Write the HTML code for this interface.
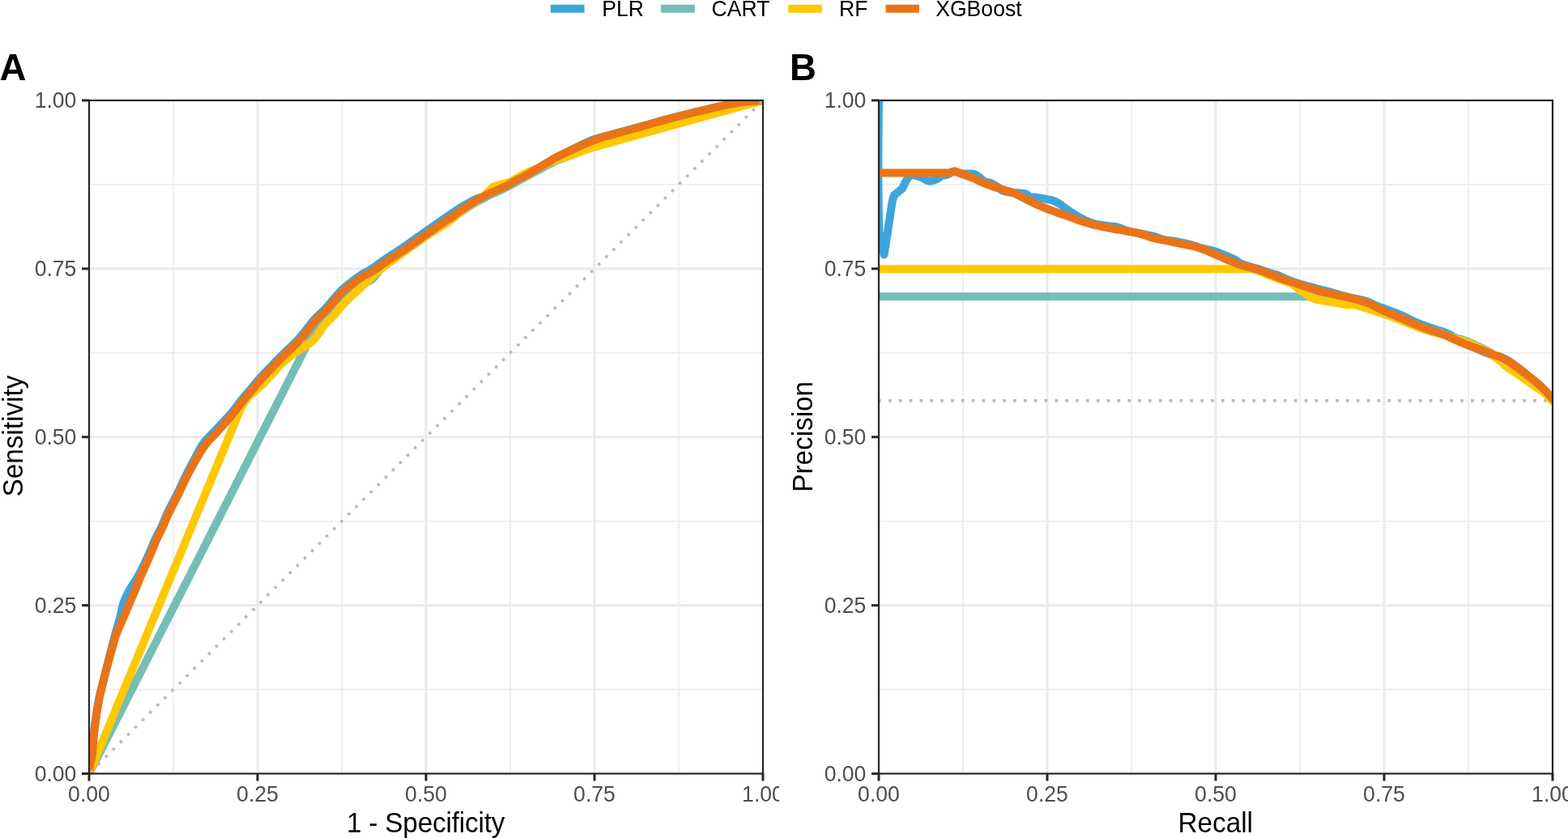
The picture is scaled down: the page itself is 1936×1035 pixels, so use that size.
<!DOCTYPE html>
<html><head><meta charset="utf-8"><title>ROC and PR curves</title>
<style>html,body{margin:0;padding:0;background:#fff;overflow:hidden}svg{display:block}</style>
</head><body>
<svg width="1936" height="1035" viewBox="0 0 1936 1035">
<defs>
<clipPath id="cA"><rect x="110.00" y="124.00" width="832.00" height="831.50"/></clipPath>
<clipPath id="cB"><rect x="1085.00" y="124.00" width="832.00" height="831.50"/></clipPath>
<clipPath id="cellA"><rect x="0" y="0" width="962" height="1035"/></clipPath>
</defs>
<rect width="1936" height="1035" fill="#ffffff"/>
<style>.tk{font-family:"Liberation Sans",Arial,sans-serif;font-size:26.60px;fill:#4D4D4D}.ti{font-family:"Liberation Sans",Arial,sans-serif;font-size:33.30px;fill:#000}.tg{font-family:"Liberation Sans",Arial,sans-serif;font-size:45.60px;font-weight:bold;fill:#000}.lg{font-family:"Liberation Sans",Arial,sans-serif;font-size:26.60px;fill:#000}</style>
<g clip-path="url(#cellA)">
<line x1="214.00" y1="124.00" x2="214.00" y2="955.50" stroke="#EBEBEB" stroke-width="1.6"/>
<line x1="110.00" y1="851.56" x2="942.00" y2="851.56" stroke="#EBEBEB" stroke-width="1.6"/>
<line x1="422.00" y1="124.00" x2="422.00" y2="955.50" stroke="#EBEBEB" stroke-width="1.6"/>
<line x1="110.00" y1="643.69" x2="942.00" y2="643.69" stroke="#EBEBEB" stroke-width="1.6"/>
<line x1="630.00" y1="124.00" x2="630.00" y2="955.50" stroke="#EBEBEB" stroke-width="1.6"/>
<line x1="110.00" y1="435.81" x2="942.00" y2="435.81" stroke="#EBEBEB" stroke-width="1.6"/>
<line x1="838.00" y1="124.00" x2="838.00" y2="955.50" stroke="#EBEBEB" stroke-width="1.6"/>
<line x1="110.00" y1="227.94" x2="942.00" y2="227.94" stroke="#EBEBEB" stroke-width="1.6"/>
<line x1="318.00" y1="124.00" x2="318.00" y2="955.50" stroke="#EBEBEB" stroke-width="3.2"/>
<line x1="110.00" y1="747.62" x2="942.00" y2="747.62" stroke="#EBEBEB" stroke-width="3.2"/>
<line x1="526.00" y1="124.00" x2="526.00" y2="955.50" stroke="#EBEBEB" stroke-width="3.2"/>
<line x1="110.00" y1="539.75" x2="942.00" y2="539.75" stroke="#EBEBEB" stroke-width="3.2"/>
<line x1="734.00" y1="124.00" x2="734.00" y2="955.50" stroke="#EBEBEB" stroke-width="3.2"/>
<line x1="110.00" y1="331.88" x2="942.00" y2="331.88" stroke="#EBEBEB" stroke-width="3.2"/>
<path d="M110.00,955.50 C110.00,955.50 110.61,948.47 111.19,945.00 C111.86,940.90 113.25,936.91 113.75,932.79 C114.70,925.11 114.76,917.31 115.53,909.59 C116.31,901.84 117.28,894.10 118.40,886.39 C119.52,878.62 120.75,870.87 122.25,863.17 C123.39,857.39 124.91,851.68 126.31,845.95 C128.20,838.20 130.18,830.47 132.14,822.73 C134.11,814.95 136.07,807.17 138.07,799.39 C139.59,793.50 141.08,787.59 142.70,781.73 C144.41,775.57 146.43,769.50 148.06,763.32 C149.58,757.52 150.25,751.45 152.15,745.79 C154.04,740.17 156.62,734.71 159.44,729.48 C163.03,722.81 167.74,716.73 171.37,710.07 C175.44,702.63 178.99,694.90 182.54,687.19 C186.05,679.58 189.03,671.72 192.55,664.11 C194.86,659.11 197.72,654.37 200.04,649.38 C202.42,644.22 204.20,638.78 206.65,633.65 C210.37,625.84 214.71,618.30 218.56,610.53 C222.35,602.86 225.75,594.98 229.57,587.32 C233.51,579.38 237.67,571.56 241.83,563.74 C243.98,559.69 246.06,555.59 248.48,551.71 C250.36,548.69 252.45,545.76 254.73,543.04 C256.57,540.83 258.84,539.00 260.84,536.92 C263.02,534.65 265.11,532.29 267.27,529.99 C269.69,527.42 272.14,524.88 274.56,522.31 C276.84,519.92 279.17,517.59 281.37,515.12 C283.80,512.40 286.15,509.61 288.43,506.76 C290.50,504.16 292.38,501.41 294.42,498.78 C296.39,496.23 298.40,493.71 300.46,491.22 C302.43,488.85 304.47,486.54 306.48,484.20 C308.47,481.87 310.51,479.58 312.46,477.22 C314.52,474.74 316.36,472.07 318.51,469.67 C322.26,465.47 326.28,461.51 330.15,457.42 C334.03,453.33 337.83,449.16 341.76,445.11 C345.59,441.17 349.47,437.30 353.40,433.47 C357.20,429.77 361.29,426.35 364.95,422.52 C368.98,418.30 372.73,413.81 376.46,409.32 C380.45,404.52 383.95,399.29 388.11,394.66 C391.84,390.53 396.31,387.09 400.13,383.03 C404.13,378.80 407.68,374.15 411.56,369.79 C415.36,365.51 419.03,361.08 423.15,357.14 C426.79,353.66 430.84,350.59 434.84,347.51 C438.63,344.59 442.49,341.70 446.52,339.12 C450.22,336.75 454.31,334.98 458.04,332.65 C461.45,330.51 464.65,328.02 467.96,325.70 C471.17,323.45 474.33,321.13 477.57,318.93 C480.77,316.76 484.05,314.70 487.28,312.57 C490.46,310.47 493.66,308.41 496.81,306.26 C500.05,304.03 503.23,301.70 506.45,299.44 C509.66,297.18 512.91,294.97 516.11,292.70 C519.32,290.45 522.48,288.14 525.68,285.87 C528.90,283.58 532.13,281.29 535.37,279.02 C538.59,276.75 541.82,274.49 545.07,272.26 C549.26,269.39 553.48,266.57 557.69,263.73 C561.00,261.51 564.25,259.19 567.62,257.08 C570.92,255.02 574.32,253.12 577.72,251.22 C581.07,249.34 584.37,247.29 587.88,245.75 C591.24,244.27 594.84,243.35 598.33,242.16 C601.76,240.98 605.26,239.98 608.64,238.66 C611.89,237.38 615.03,235.81 618.22,234.37 C621.48,232.90 624.83,231.59 628.00,229.93 C631.33,228.18 634.44,225.99 637.71,224.12 C641.47,221.97 645.40,220.10 649.10,217.85 C652.00,216.08 654.66,213.93 657.50,212.07 C660.33,210.21 663.22,208.46 666.10,206.70 C668.98,204.94 671.91,203.25 674.80,201.50 C677.71,199.75 680.54,197.86 683.50,196.20 C686.34,194.60 689.28,193.18 692.20,191.72 C695.08,190.28 698.01,188.94 700.89,187.50 C703.76,186.07 706.60,184.55 709.46,183.10 C712.32,181.67 715.18,180.25 718.05,178.86 C720.91,177.48 723.74,176.02 726.66,174.79 C729.53,173.58 732.47,172.54 735.43,171.55 C738.30,170.57 741.22,169.70 744.14,168.89 C746.05,168.37 748.00,168.03 749.91,167.53 C763.49,163.94 777.05,160.29 790.60,156.60 C804.15,152.91 817.62,148.96 831.20,145.40 C844.09,142.02 857.05,138.91 870.00,135.80 C878.98,133.64 887.96,131.45 897.00,129.60 C903.96,128.18 910.96,126.88 918.00,126.00 C925.96,125.01 942.00,124.00 942.00,124.00" fill="none" stroke="#3DA5DA" stroke-width="10.0" stroke-linejoin="round" stroke-linecap="butt" clip-path="url(#cA)"/>
<path d="M110.00,955.50 L381.50,421.00 C381.50,421.00 386.61,409.63 390.00,404.50 C392.78,400.29 396.49,396.67 400.00,393.00 C404.32,388.49 409.02,384.33 413.50,379.96 C415.68,377.83 417.79,375.63 420.00,373.52 C423.29,370.38 426.53,367.17 430.00,364.23 C433.20,361.52 436.59,359.03 440.00,356.59 C443.26,354.25 446.58,351.99 450.00,349.91 C453.25,347.94 457.22,346.91 460.00,344.42 C463.89,340.94 466.38,335.86 470.00,331.99 C473.05,328.74 476.41,325.69 480.00,323.05 C486.41,318.33 493.40,314.39 500.00,309.92 C506.73,305.37 513.34,300.64 520.00,295.98 C526.68,291.31 533.30,286.56 540.00,281.94 C546.63,277.36 553.35,272.93 560.00,268.38 C566.69,263.80 573.14,258.86 580.00,254.55 C586.48,250.49 593.20,246.77 600.00,243.26 C606.53,239.89 613.41,237.19 620.00,233.91 C626.75,230.55 633.36,226.92 640.00,223.34 C643.36,221.52 646.64,219.55 650.00,217.72 C653.31,215.93 656.67,214.22 660.00,212.47 C663.33,210.72 666.67,208.98 670.00,207.22 C673.34,205.46 676.63,203.60 680.00,201.91 C683.30,200.25 686.60,198.58 690.00,197.16 C693.27,195.78 696.68,194.76 700.00,193.50 C704.68,191.71 709.33,189.82 714.00,188.00 C718.33,186.32 722.58,184.39 727.00,183.00 C737.91,179.56 748.99,176.62 760.00,173.50 C773.32,169.72 786.66,166.02 800.00,162.30 C823.33,155.79 846.66,149.26 870.00,142.80 C893.99,136.16 942.00,123.00 942.00,123.00" fill="none" stroke="#74BEB6" stroke-width="10.0" stroke-linejoin="round" stroke-linecap="butt" clip-path="url(#cA)"/>
<path d="M110.00,955.50 L297.00,505.00 C297.00,505.00 300.14,499.20 302.00,496.50 C303.81,493.87 305.78,491.29 308.00,489.00 C310.45,486.46 313.34,484.34 316.00,482.00 C319.01,479.34 322.17,476.83 325.00,474.00 C329.17,469.83 333.00,465.33 337.00,461.00 C341.00,456.67 344.75,452.07 349.00,448.00 C352.62,444.54 356.61,441.44 360.60,438.40 C364.35,435.54 368.27,432.91 372.20,430.30 C376.01,427.77 380.30,425.88 383.80,423.00 C386.90,420.44 389.53,417.21 392.00,414.00 C394.93,410.20 397.05,405.75 400.00,401.98 C401.98,399.43 404.55,397.37 406.80,395.04 C409.05,392.70 411.36,390.40 413.50,387.96 C415.76,385.40 417.76,382.60 420.00,380.02 C422.26,377.43 424.59,374.89 427.00,372.44 C429.26,370.13 431.64,367.94 434.00,365.72 C436.31,363.55 438.67,361.44 441.00,359.29 C444.01,356.50 447.05,353.76 450.00,350.91 C453.39,347.64 456.54,344.11 460.00,340.92 C463.20,337.97 466.61,335.23 470.00,332.49 C473.27,329.85 476.63,327.31 480.00,324.80 C483.30,322.33 486.68,319.97 490.00,317.54 C493.34,315.10 496.70,312.67 500.00,310.17 C503.36,307.63 506.58,304.89 510.00,302.43 C513.25,300.08 516.68,297.98 520.00,295.73 C523.34,293.48 526.63,291.13 530.00,288.92 C533.30,286.75 536.66,284.68 540.00,282.59 C543.32,280.50 546.78,278.62 550.00,276.39 C553.44,274.01 556.72,271.38 560.00,268.78 C563.38,266.10 566.57,263.16 570.00,260.55 C573.23,258.08 576.65,255.86 580.00,253.55 C583.32,251.27 586.73,249.13 590.00,246.79 C593.39,244.37 596.77,241.89 600.00,239.26 C601.77,237.82 603.33,236.13 605.00,234.58 C606.66,233.05 608.11,231.11 610.00,230.00 C611.44,229.16 613.33,229.15 615.00,228.71 C616.67,228.28 618.34,227.88 620.00,227.41 C623.34,226.47 626.84,225.86 630.00,224.49 C633.51,222.96 636.62,220.54 640.00,218.69 C643.29,216.89 646.61,215.13 650.00,213.52 C653.28,211.97 656.67,210.64 660.00,209.20 C663.33,207.75 666.69,206.35 670.00,204.87 C673.35,203.37 676.63,201.70 680.00,200.23 C683.30,198.79 686.59,197.29 690.00,196.16 C693.26,195.07 696.74,194.65 700.00,193.56 C704.74,191.99 709.31,189.91 714.00,188.18 C718.31,186.59 722.58,184.84 727.00,183.60 C798.58,163.45 942.00,124.00 942.00,124.00" fill="none" stroke="#FEC804" stroke-width="10.0" stroke-linejoin="round" stroke-linecap="butt" clip-path="url(#cA)"/>
<path d="M110.00,955.50 C110.00,955.50 110.62,948.47 111.20,945.00 C111.89,940.90 113.29,936.92 113.80,932.80 C114.75,925.12 114.82,917.31 115.60,909.60 C116.39,901.85 117.37,894.11 118.50,886.40 C119.64,878.64 120.88,870.89 122.40,863.20 C123.54,857.42 125.08,851.72 126.50,846.00 C128.42,838.25 130.36,830.51 132.40,822.80 C134.46,815.05 136.60,807.31 138.80,799.60 C140.46,793.78 141.93,787.88 144.00,782.20 C146.16,776.28 149.00,770.60 151.50,764.80 C153.84,759.37 156.18,753.94 158.50,748.50 C160.85,743.01 163.21,737.52 165.50,732.00 C168.37,725.08 171.04,718.08 174.00,711.20 C177.34,703.41 181.03,695.78 184.40,688.00 C187.73,680.31 190.68,672.45 194.10,664.80 C196.35,659.78 199.12,655.00 201.40,650.00 C203.75,644.84 205.56,639.42 208.00,634.30 C211.73,626.49 216.06,618.96 219.90,611.20 C223.69,603.53 227.00,595.61 230.90,588.00 C234.93,580.14 239.33,572.48 243.70,564.80 C245.93,560.88 248.19,556.94 250.70,553.20 C252.62,550.34 254.75,547.60 257.00,545.00 C258.85,542.87 261.04,541.04 263.00,539.00 C265.21,536.71 267.37,534.37 269.50,532.00 C271.87,529.37 274.17,526.67 276.50,524.00 C278.67,521.51 280.87,519.03 283.00,516.50 C285.37,513.69 287.73,510.88 290.00,508.00 C292.06,505.38 293.96,502.64 296.00,500.00 C297.96,497.47 299.96,494.97 302.00,492.50 C303.96,490.13 306.00,487.83 308.00,485.50 C310.00,483.17 312.04,480.87 314.00,478.50 C316.04,476.03 317.87,473.39 320.00,471.00 C323.74,466.82 327.74,462.87 331.60,458.80 C335.47,454.71 339.28,450.54 343.20,446.50 C347.01,442.58 350.88,438.72 354.80,434.90 C358.62,431.18 362.72,427.75 366.40,423.90 C370.46,419.65 374.24,415.12 378.00,410.60 C381.97,405.82 385.45,400.61 389.60,396.00 C393.31,391.88 397.77,388.45 401.60,384.43 C405.63,380.21 409.27,375.61 413.20,371.28 C417.00,367.10 420.68,362.75 424.80,358.90 C428.41,355.52 432.44,352.57 436.40,349.60 C440.17,346.77 444.00,343.98 448.00,341.50 C451.73,339.18 455.85,337.50 459.60,335.20 C463.09,333.06 466.34,330.54 469.70,328.20 C472.90,325.97 476.06,323.68 479.30,321.50 C482.50,319.35 485.77,317.31 489.00,315.20 C492.20,313.11 495.43,311.05 498.60,308.90 C501.87,306.68 505.06,304.36 508.30,302.10 C511.53,299.86 514.78,297.65 518.00,295.40 C521.21,293.15 524.39,290.86 527.60,288.60 C530.83,286.33 534.06,284.06 537.30,281.80 C540.53,279.56 543.75,277.31 547.00,275.10 C551.22,272.24 555.53,269.52 559.70,266.60 C562.96,264.32 566.03,261.77 569.30,259.50 C572.47,257.30 575.76,255.30 579.00,253.20 C582.20,251.13 585.30,248.90 588.60,247.00 C591.74,245.20 595.06,243.72 598.30,242.10 C601.53,240.49 604.74,238.84 608.00,237.30 C611.17,235.80 614.40,234.44 617.60,233.00 C620.84,231.54 624.16,230.25 627.30,228.60 C630.63,226.85 633.68,224.58 637.00,222.80 C640.82,220.75 644.88,219.14 648.70,217.10 C651.68,215.51 654.50,213.63 657.40,211.90 C660.30,210.17 663.20,208.43 666.10,206.70 C669.00,204.97 671.91,203.25 674.80,201.50 C677.71,199.75 680.54,197.86 683.50,196.20 C686.34,194.60 689.28,193.18 692.20,191.72 C695.08,190.29 698.00,188.92 700.90,187.53 C703.80,186.14 706.69,184.75 709.60,183.39 C712.49,182.05 715.39,180.71 718.30,179.41 C721.19,178.12 724.07,176.82 727.00,175.62 C729.87,174.45 732.78,173.36 735.70,172.31 C738.55,171.28 741.41,170.29 744.30,169.39 C746.18,168.81 748.10,168.37 750.00,167.85 C763.54,164.11 777.06,160.34 790.60,156.60 C804.13,152.86 817.62,148.96 831.20,145.40 C844.09,142.02 857.05,138.91 870.00,135.80 C878.98,133.64 887.96,131.45 897.00,129.60 C903.96,128.18 910.96,126.88 918.00,126.00 C925.96,125.01 942.00,124.00 942.00,124.00" fill="none" stroke="#EB7317" stroke-width="10.0" stroke-linejoin="round" stroke-linecap="butt" clip-path="url(#cA)"/>
<line x1="110.00" y1="955.50" x2="942.00" y2="124.00" stroke="#BABABA" stroke-width="3.6" stroke-dasharray="3.6 9.24" stroke-dashoffset="-2.55" clip-path="url(#cA)"/>
<line x1="110.00" y1="955.50" x2="110.00" y2="964.50" stroke="#262626" stroke-width="3"/>
<line x1="101.00" y1="955.50" x2="110.00" y2="955.50" stroke="#262626" stroke-width="3"/>
<text transform="translate(110.00,989.60) scale(1,1.065)" text-anchor="middle" class="tk">0.00</text>
<text transform="translate(94.40,964.80) scale(1,1.065)" text-anchor="end" class="tk">0.00</text>
<line x1="318.00" y1="955.50" x2="318.00" y2="964.50" stroke="#262626" stroke-width="3"/>
<line x1="101.00" y1="747.62" x2="110.00" y2="747.62" stroke="#262626" stroke-width="3"/>
<text transform="translate(318.00,989.60) scale(1,1.065)" text-anchor="middle" class="tk">0.25</text>
<text transform="translate(94.40,756.92) scale(1,1.065)" text-anchor="end" class="tk">0.25</text>
<line x1="526.00" y1="955.50" x2="526.00" y2="964.50" stroke="#262626" stroke-width="3"/>
<line x1="101.00" y1="539.75" x2="110.00" y2="539.75" stroke="#262626" stroke-width="3"/>
<text transform="translate(526.00,989.60) scale(1,1.065)" text-anchor="middle" class="tk">0.50</text>
<text transform="translate(94.40,549.05) scale(1,1.065)" text-anchor="end" class="tk">0.50</text>
<line x1="734.00" y1="955.50" x2="734.00" y2="964.50" stroke="#262626" stroke-width="3"/>
<line x1="101.00" y1="331.88" x2="110.00" y2="331.88" stroke="#262626" stroke-width="3"/>
<text transform="translate(734.00,989.60) scale(1,1.065)" text-anchor="middle" class="tk">0.75</text>
<text transform="translate(94.40,341.18) scale(1,1.065)" text-anchor="end" class="tk">0.75</text>
<line x1="942.00" y1="955.50" x2="942.00" y2="964.50" stroke="#262626" stroke-width="3"/>
<line x1="101.00" y1="124.00" x2="110.00" y2="124.00" stroke="#262626" stroke-width="3"/>
<text transform="translate(942.00,989.60) scale(1,1.065)" text-anchor="middle" class="tk">1.00</text>
<text transform="translate(94.40,133.30) scale(1,1.065)" text-anchor="end" class="tk">1.00</text>
<rect x="110.00" y="124.00" width="832.00" height="831.50" fill="none" stroke="#262626" stroke-width="2.2"/>
</g>
<line x1="1189.00" y1="124.00" x2="1189.00" y2="955.50" stroke="#EBEBEB" stroke-width="1.6"/>
<line x1="1085.00" y1="851.56" x2="1917.00" y2="851.56" stroke="#EBEBEB" stroke-width="1.6"/>
<line x1="1397.00" y1="124.00" x2="1397.00" y2="955.50" stroke="#EBEBEB" stroke-width="1.6"/>
<line x1="1085.00" y1="643.69" x2="1917.00" y2="643.69" stroke="#EBEBEB" stroke-width="1.6"/>
<line x1="1605.00" y1="124.00" x2="1605.00" y2="955.50" stroke="#EBEBEB" stroke-width="1.6"/>
<line x1="1085.00" y1="435.81" x2="1917.00" y2="435.81" stroke="#EBEBEB" stroke-width="1.6"/>
<line x1="1813.00" y1="124.00" x2="1813.00" y2="955.50" stroke="#EBEBEB" stroke-width="1.6"/>
<line x1="1085.00" y1="227.94" x2="1917.00" y2="227.94" stroke="#EBEBEB" stroke-width="1.6"/>
<line x1="1293.00" y1="124.00" x2="1293.00" y2="955.50" stroke="#EBEBEB" stroke-width="3.2"/>
<line x1="1085.00" y1="747.62" x2="1917.00" y2="747.62" stroke="#EBEBEB" stroke-width="3.2"/>
<line x1="1501.00" y1="124.00" x2="1501.00" y2="955.50" stroke="#EBEBEB" stroke-width="3.2"/>
<line x1="1085.00" y1="539.75" x2="1917.00" y2="539.75" stroke="#EBEBEB" stroke-width="3.2"/>
<line x1="1709.00" y1="124.00" x2="1709.00" y2="955.50" stroke="#EBEBEB" stroke-width="3.2"/>
<line x1="1085.00" y1="331.88" x2="1917.00" y2="331.88" stroke="#EBEBEB" stroke-width="3.2"/>
<path d="M1085.30,100.00 C1085.30,100.00 1083.51,222.18 1085.30,283.00 C1085.61,293.68 1091.60,314.50 1091.60,314.50 C1091.60,314.50 1094.55,295.64 1096.00,286.20 C1097.75,274.80 1099.39,263.39 1101.20,252.00 C1101.46,250.39 1101.77,248.77 1102.20,247.20 C1102.74,245.24 1103.00,243.03 1104.10,241.40 C1105.37,239.53 1107.55,238.24 1109.30,236.70 C1110.85,235.34 1112.79,234.32 1114.00,232.70 C1115.53,230.65 1116.25,227.99 1117.50,225.70 C1118.58,223.72 1119.70,221.74 1121.00,219.90 C1121.87,218.67 1122.79,217.23 1124.00,216.50 C1124.89,215.96 1126.23,215.90 1127.30,216.10 C1130.63,216.73 1134.01,217.76 1137.20,219.00 C1139.91,220.06 1142.31,221.93 1145.00,223.00 C1146.15,223.46 1147.49,223.79 1148.70,223.60 C1151.63,223.13 1154.75,222.34 1157.40,221.00 C1159.58,219.90 1161.09,217.30 1163.20,216.30 C1164.19,215.83 1165.58,216.82 1166.70,216.60 C1168.48,216.25 1170.21,215.36 1171.90,214.60 C1173.98,213.66 1175.88,211.51 1178.00,211.50 C1181.24,211.48 1184.60,213.96 1188.00,214.50 C1190.93,214.96 1194.00,214.40 1197.00,214.50 C1198.87,214.56 1200.89,214.35 1202.60,215.00 C1205.09,215.95 1207.36,217.73 1209.60,219.30 C1211.63,220.73 1213.21,222.94 1215.40,224.00 C1218.01,225.27 1221.29,225.16 1224.00,226.30 C1226.82,227.49 1229.44,229.28 1232.00,231.00 C1233.77,232.18 1235.14,234.02 1237.00,235.00 C1239.04,236.08 1241.41,236.74 1243.70,237.20 C1246.41,237.74 1249.23,237.78 1252.00,238.00 C1255.03,238.24 1258.08,238.26 1261.10,238.60 C1263.05,238.82 1265.10,238.99 1266.90,239.70 C1268.97,240.52 1270.59,242.56 1272.70,243.20 C1275.42,244.03 1278.52,243.69 1281.40,244.10 C1285.28,244.65 1289.16,245.31 1293.00,246.10 C1295.93,246.71 1298.96,247.17 1301.70,248.30 C1304.76,249.57 1307.62,251.46 1310.40,253.30 C1312.45,254.66 1314.20,256.46 1316.20,257.90 C1319.03,259.93 1321.96,261.82 1324.90,263.70 C1327.23,265.19 1329.54,266.73 1332.00,268.00 C1337.04,270.60 1342.04,273.54 1347.40,275.30 C1352.98,277.14 1358.97,277.84 1364.80,278.80 C1369.50,279.57 1374.38,279.45 1379.00,280.50 C1383.45,281.51 1387.59,283.78 1392.00,285.00 C1397.25,286.45 1402.66,287.37 1408.00,288.50 C1413.66,289.70 1419.42,290.54 1425.00,292.00 C1428.95,293.04 1432.63,295.10 1436.60,296.00 C1442.29,297.30 1448.23,297.56 1454.00,298.60 C1459.36,299.56 1464.74,300.59 1470.00,302.00 C1474.41,303.19 1478.60,305.17 1483.00,306.40 C1488.73,308.00 1494.73,308.73 1500.40,310.50 C1505.40,312.06 1510.16,314.38 1515.00,316.40 C1518.16,317.71 1521.39,318.90 1524.40,320.50 C1527.39,322.10 1529.88,324.72 1533.00,326.00 C1538.81,328.39 1545.16,329.59 1551.20,331.50 C1557.26,333.42 1563.25,335.55 1569.30,337.50 C1572.45,338.52 1575.72,339.21 1578.80,340.40 C1581.78,341.55 1584.54,343.29 1587.50,344.50 C1591.94,346.32 1596.43,348.05 1601.00,349.50 C1606.40,351.21 1611.94,352.49 1617.40,354.00 C1621.60,355.16 1625.79,356.36 1630.00,357.50 C1633.66,358.49 1637.34,359.41 1641.00,360.40 C1644.74,361.41 1648.46,362.51 1652.20,363.50 C1657.99,365.04 1663.78,366.58 1669.60,368.00 C1675.38,369.41 1681.34,370.24 1687.00,372.00 C1690.48,373.08 1693.62,375.10 1697.00,376.50 C1702.09,378.60 1707.26,380.51 1712.40,382.50 C1718.20,384.74 1724.10,386.74 1729.80,389.20 C1735.70,391.74 1741.31,394.94 1747.20,397.50 C1752.91,399.98 1758.73,402.23 1764.60,404.30 C1770.33,406.33 1776.29,407.73 1782.00,409.80 C1784.76,410.80 1787.41,412.12 1790.00,413.50 C1795.87,416.62 1801.49,420.24 1807.40,423.30 C1813.09,426.24 1818.93,428.93 1824.80,431.50 C1830.53,434.00 1836.30,436.47 1842.20,438.50 C1845.97,439.80 1850.04,440.20 1853.80,441.50 C1856.81,442.54 1859.75,443.91 1862.50,445.50 C1864.82,446.84 1866.84,448.70 1869.00,450.30 C1872.24,452.70 1875.53,455.02 1878.70,457.50 C1882.13,460.19 1885.42,463.05 1888.80,465.80 C1892.15,468.52 1895.67,471.05 1898.90,473.90 C1902.43,477.02 1905.79,480.35 1909.10,483.70 C1911.22,485.85 1913.10,488.23 1915.20,490.40 C1917.40,492.67 1922.00,497.00 1922.00,497.00" fill="none" stroke="#3DA5DA" stroke-width="10.0" stroke-linejoin="round" stroke-linecap="butt" clip-path="url(#cB)"/>
<path d="M1080.00,366.30 C1080.00,366.30 1434.69,365.91 1612.00,366.30 C1615.75,366.31 1619.50,366.90 1623.20,367.50 C1627.10,368.13 1630.91,369.26 1634.80,370.00 C1640.58,371.10 1646.42,371.89 1652.20,373.00 C1655.12,373.56 1657.96,374.68 1660.90,375.00 C1664.72,375.41 1668.72,374.58 1672.50,375.20 C1677.42,376.01 1682.19,377.85 1687.00,379.30 C1691.36,380.62 1695.67,382.10 1700.00,383.50 C1704.13,384.83 1708.31,386.03 1712.40,387.50 C1718.25,389.60 1724.02,391.92 1729.80,394.20 C1735.62,396.49 1741.35,399.00 1747.20,401.20 C1752.95,403.36 1758.73,405.48 1764.60,407.30 C1770.33,409.08 1776.29,410.17 1782.00,412.00 C1785.42,413.10 1788.57,415.02 1792.00,416.10 C1797.04,417.69 1802.36,418.41 1807.40,420.00 C1811.03,421.14 1814.53,422.73 1818.00,424.30 C1822.26,426.23 1826.41,428.41 1830.60,430.50 C1833.75,432.07 1837.01,433.47 1840.00,435.30 C1841.81,436.41 1843.31,437.99 1845.00,439.30 C1847.91,441.56 1850.95,443.66 1853.80,446.00 C1855.82,447.66 1857.54,449.70 1859.60,451.30 C1862.44,453.50 1865.54,455.36 1868.50,457.40 C1873.00,460.50 1877.50,463.60 1882.00,466.70 C1886.54,469.83 1891.08,472.95 1895.60,476.10 C1900.11,479.25 1904.89,482.11 1909.10,485.60 C1911.19,487.34 1912.52,489.92 1914.50,491.80 C1916.82,493.99 1922.00,497.80 1922.00,497.80" fill="none" stroke="#74BEB6" stroke-width="10.0" stroke-linejoin="round" stroke-linecap="butt" clip-path="url(#cB)"/>
<path d="M1080.00,332.30 C1080.00,332.30 1380.67,332.40 1531.00,332.30 C1534.13,332.30 1537.28,331.80 1540.40,332.00 C1544.02,332.23 1547.74,332.54 1551.20,333.60 C1557.38,335.50 1563.24,338.53 1569.30,340.90 C1575.34,343.26 1581.41,345.57 1587.50,347.80 C1589.88,348.67 1592.51,349.01 1594.70,350.20 C1597.34,351.64 1599.55,353.89 1602.00,355.70 C1605.32,358.15 1608.51,360.81 1612.00,363.00 C1615.58,365.25 1619.27,367.53 1623.20,369.00 C1626.87,370.37 1630.91,370.78 1634.80,371.50 C1640.58,372.58 1646.42,373.32 1652.20,374.40 C1655.12,374.95 1657.96,376.08 1660.90,376.40 C1664.72,376.81 1668.72,375.96 1672.50,376.60 C1677.42,377.43 1682.19,379.33 1687.00,380.80 C1691.35,382.13 1695.67,383.60 1700.00,385.00 C1704.13,386.33 1708.31,387.53 1712.40,389.00 C1718.25,391.10 1724.02,393.42 1729.80,395.70 C1735.62,397.99 1741.35,400.50 1747.20,402.70 C1752.95,404.86 1758.73,406.98 1764.60,408.80 C1770.33,410.58 1776.29,411.67 1782.00,413.50 C1785.42,414.60 1788.56,416.56 1792.00,417.60 C1797.03,419.12 1802.37,419.67 1807.40,421.20 C1811.04,422.31 1814.53,423.93 1818.00,425.50 C1822.26,427.43 1826.41,429.61 1830.60,431.70 C1833.75,433.27 1837.01,434.67 1840.00,436.50 C1841.81,437.61 1843.31,439.19 1845.00,440.50 C1847.91,442.76 1850.95,444.86 1853.80,447.20 C1855.82,448.86 1857.54,450.90 1859.60,452.50 C1862.44,454.70 1865.54,456.56 1868.50,458.60 C1873.00,461.70 1877.50,464.80 1882.00,467.90 C1886.54,471.03 1891.08,474.15 1895.60,477.30 C1900.11,480.45 1904.89,483.31 1909.10,486.80 C1911.19,488.54 1912.52,491.12 1914.50,493.00 C1916.82,495.19 1922.00,499.00 1922.00,499.00" fill="none" stroke="#FEC804" stroke-width="10.0" stroke-linejoin="round" stroke-linecap="butt" clip-path="url(#cB)"/>
<path d="M1080.00,213.40 L1172.50,213.40 L1178.80,211.50 C1178.80,211.50 1191.66,216.14 1198.00,218.70 C1205.80,221.84 1213.37,225.55 1221.20,228.60 C1225.70,230.35 1230.40,231.60 1235.00,233.10 C1240.80,235.00 1246.78,236.47 1252.40,238.80 C1258.38,241.27 1263.96,244.68 1269.80,247.50 C1275.56,250.28 1281.31,253.11 1287.20,255.60 C1292.91,258.01 1298.77,260.07 1304.60,262.20 C1310.37,264.31 1316.21,266.23 1322.00,268.30 C1325.35,269.50 1328.63,270.87 1332.00,272.00 C1337.10,273.71 1342.20,275.44 1347.40,276.80 C1353.14,278.30 1358.98,279.41 1364.80,280.60 C1370.58,281.78 1376.39,282.85 1382.20,283.90 C1387.99,284.95 1393.82,285.81 1399.60,286.90 C1402.52,287.45 1405.44,288.01 1408.30,288.80 C1411.24,289.61 1414.09,290.76 1417.00,291.70 C1419.66,292.56 1422.28,293.56 1425.00,294.20 C1430.75,295.56 1436.61,296.50 1442.40,297.70 C1448.21,298.90 1453.99,300.20 1459.80,301.40 C1465.59,302.60 1471.46,303.51 1477.20,304.90 C1479.19,305.38 1481.08,306.26 1483.00,307.00 C1486.88,308.49 1490.77,309.98 1494.60,311.60 C1498.50,313.25 1502.33,315.07 1506.20,316.80 C1509.63,318.34 1513.02,319.98 1516.50,321.40 C1521.99,323.64 1527.45,326.04 1533.10,327.80 C1539.02,329.64 1545.28,330.37 1551.20,332.20 C1557.35,334.10 1563.27,336.72 1569.30,339.00 C1575.37,341.29 1581.39,343.72 1587.50,345.90 C1591.96,347.49 1596.51,348.80 1601.00,350.30 C1606.48,352.13 1611.88,354.22 1617.40,355.90 C1623.14,357.65 1628.97,359.14 1634.80,360.60 C1640.57,362.04 1646.40,363.25 1652.20,364.60 C1658.00,365.95 1663.83,367.22 1669.60,368.70 C1675.43,370.19 1681.34,371.52 1687.00,373.50 C1690.48,374.72 1693.66,376.71 1697.00,378.30 C1702.13,380.74 1707.19,383.33 1712.40,385.60 C1718.13,388.10 1724.05,390.14 1729.80,392.60 C1735.65,395.11 1741.33,398.02 1747.20,400.50 C1752.93,402.92 1758.73,405.23 1764.60,407.30 C1770.33,409.33 1776.29,410.73 1782.00,412.80 C1784.76,413.80 1787.32,415.29 1790.00,416.50 C1795.79,419.12 1801.52,421.90 1807.40,424.30 C1813.12,426.63 1819.02,428.52 1824.80,430.70 C1830.62,432.89 1836.38,435.23 1842.20,437.40 C1846.04,438.83 1850.06,439.84 1853.80,441.50 C1856.83,442.84 1859.65,444.68 1862.50,446.40 C1864.72,447.74 1866.89,449.19 1869.00,450.70 C1872.29,453.05 1875.48,455.55 1878.70,458.00 C1882.08,460.58 1885.46,463.17 1888.80,465.80 C1892.19,468.47 1895.67,471.05 1898.90,473.90 C1902.43,477.02 1905.79,480.35 1909.10,483.70 C1911.22,485.85 1913.10,488.23 1915.20,490.40 C1917.40,492.67 1922.00,497.00 1922.00,497.00" fill="none" stroke="#EB7317" stroke-width="10.0" stroke-linejoin="round" stroke-linecap="butt" clip-path="url(#cB)"/>
<line x1="1085.00" y1="494.9" x2="1917.00" y2="494.9" stroke="#BABABA" stroke-width="3.6" stroke-dasharray="3.6 9.24" stroke-dashoffset="0.8" clip-path="url(#cB)"/>
<line x1="1085.00" y1="955.50" x2="1085.00" y2="964.50" stroke="#262626" stroke-width="3"/>
<line x1="1076.00" y1="955.50" x2="1085.00" y2="955.50" stroke="#262626" stroke-width="3"/>
<text transform="translate(1085.00,989.60) scale(1,1.065)" text-anchor="middle" class="tk">0.00</text>
<text transform="translate(1069.40,964.80) scale(1,1.065)" text-anchor="end" class="tk">0.00</text>
<line x1="1293.00" y1="955.50" x2="1293.00" y2="964.50" stroke="#262626" stroke-width="3"/>
<line x1="1076.00" y1="747.62" x2="1085.00" y2="747.62" stroke="#262626" stroke-width="3"/>
<text transform="translate(1293.00,989.60) scale(1,1.065)" text-anchor="middle" class="tk">0.25</text>
<text transform="translate(1069.40,756.92) scale(1,1.065)" text-anchor="end" class="tk">0.25</text>
<line x1="1501.00" y1="955.50" x2="1501.00" y2="964.50" stroke="#262626" stroke-width="3"/>
<line x1="1076.00" y1="539.75" x2="1085.00" y2="539.75" stroke="#262626" stroke-width="3"/>
<text transform="translate(1501.00,989.60) scale(1,1.065)" text-anchor="middle" class="tk">0.50</text>
<text transform="translate(1069.40,549.05) scale(1,1.065)" text-anchor="end" class="tk">0.50</text>
<line x1="1709.00" y1="955.50" x2="1709.00" y2="964.50" stroke="#262626" stroke-width="3"/>
<line x1="1076.00" y1="331.88" x2="1085.00" y2="331.88" stroke="#262626" stroke-width="3"/>
<text transform="translate(1709.00,989.60) scale(1,1.065)" text-anchor="middle" class="tk">0.75</text>
<text transform="translate(1069.40,341.18) scale(1,1.065)" text-anchor="end" class="tk">0.75</text>
<line x1="1917.00" y1="955.50" x2="1917.00" y2="964.50" stroke="#262626" stroke-width="3"/>
<line x1="1076.00" y1="124.00" x2="1085.00" y2="124.00" stroke="#262626" stroke-width="3"/>
<text transform="translate(1917.00,989.60) scale(1,1.065)" text-anchor="middle" class="tk">1.00</text>
<text transform="translate(1069.40,133.30) scale(1,1.065)" text-anchor="end" class="tk">1.00</text>
<rect x="1085.00" y="124.00" width="832.00" height="831.50" fill="none" stroke="#262626" stroke-width="2.2"/>
<text transform="translate(525.60,1027.90) scale(1,1.065)" text-anchor="middle" class="ti" letter-spacing="-0.17">1 - Specificity</text>
<text transform="translate(1500.70,1028.00) scale(1,1.065)" text-anchor="middle" class="ti">Recall</text>
<text transform="translate(27.80,538.60) rotate(-90) scale(1,1.065)" text-anchor="middle" class="ti">Sensitivity</text>
<text transform="translate(1002.50,539.30) rotate(-90) scale(1,1.065)" text-anchor="middle" class="ti">Precision</text>
<text x="-0.4" y="98.5" class="tg">A</text>
<text x="975.1" y="98.5" class="tg">B</text>
<line x1="679.8" y1="10.85" x2="721.6" y2="10.85" stroke="#3DA5DA" stroke-width="10.0"/>
<text transform="translate(743.20,20.00) scale(1,1.065)" class="lg">PLR</text>
<line x1="816.1" y1="10.85" x2="858.0" y2="10.85" stroke="#74BEB6" stroke-width="10.0"/>
<text transform="translate(878.60,20.00) scale(1,1.065)" class="lg">CART</text>
<line x1="973.2" y1="10.85" x2="1014.9" y2="10.85" stroke="#FEC804" stroke-width="10.0"/>
<text transform="translate(1036.00,20.00) scale(1,1.065)" class="lg">RF</text>
<line x1="1093.6" y1="10.85" x2="1134.9" y2="10.85" stroke="#EB7317" stroke-width="10.0"/>
<text transform="translate(1155.20,20.00) scale(1,1.065)" class="lg">XGBoost</text>
</svg>
</body></html>
